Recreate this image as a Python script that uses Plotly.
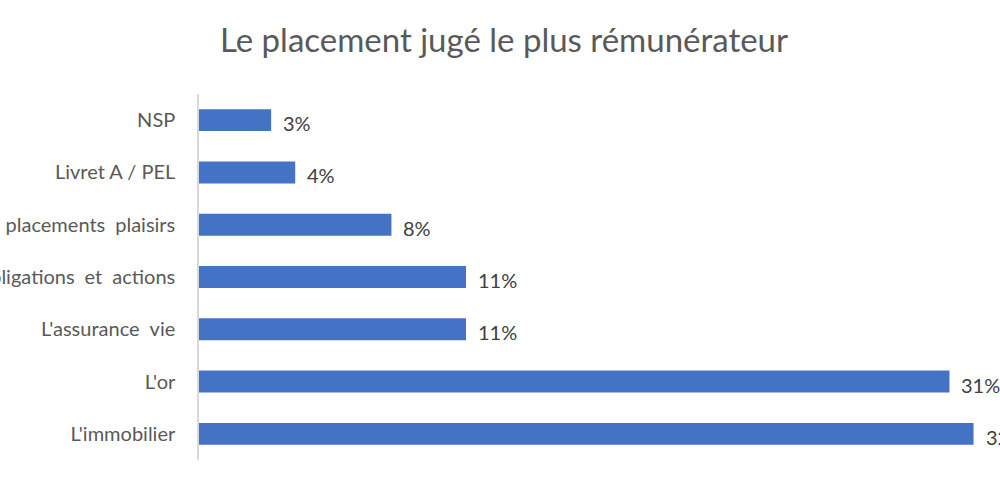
import plotly.graph_objects as go

SP = "\u2002"
categories = ["NSP", "Livret A / PEL", "Les placements" + SP + "plaisirs",
              "Les obligations" + SP + "et" + SP + "actions",
              "L'assurance" + SP + "vie", "L'or", "L'immobilier"]
values = [3.0, 4.0, 8.0, 11.1, 11.1, 31.2, 32.2]
value_labels = ["3%", "4%", "8%", "11%", "11%", "31%", "32%"]

FONT = "Lato"
TXT = "#595959"

fig = go.Figure(go.Bar(
    x=values, y=categories, orientation="h",
    marker=dict(color="#4472C4", line=dict(width=0)),
    hoverinfo="skip",
))

for c, v, t in zip(categories, values, value_labels):
    fig.add_annotation(x=v, y=c, xref="x", yref="y", text=t, showarrow=False,
                       xanchor="left", yanchor="middle", xshift=10, yshift=-3,
                       font=dict(family=FONT, size=20, color="#404040"))

fig.update_layout(
    width=1000, height=496,
    margin=dict(l=199, r=0, t=94, b=36),
    paper_bgcolor="white", plot_bgcolor="white",
    bargap=0.58,
    showlegend=False,
    title=dict(text="Le placement jugé le plus rémunérateur",
               x=0.504, xanchor="center", xref="container",
               y=1 - 40 / 496, yanchor="middle", yref="container",
               font=dict(family=FONT, size=33, color=TXT)),
    xaxis=dict(range=[0, 33.3], visible=False, fixedrange=True),
    yaxis=dict(autorange="reversed", showline=True, linecolor="#d9d9d9", linewidth=1.5,
               ticks="", showgrid=False, automargin=False, ticklabelstandoff=18,
               tickfont=dict(family=FONT, size=20, color=TXT), fixedrange=True),
)

fig.write_html("out.html")
